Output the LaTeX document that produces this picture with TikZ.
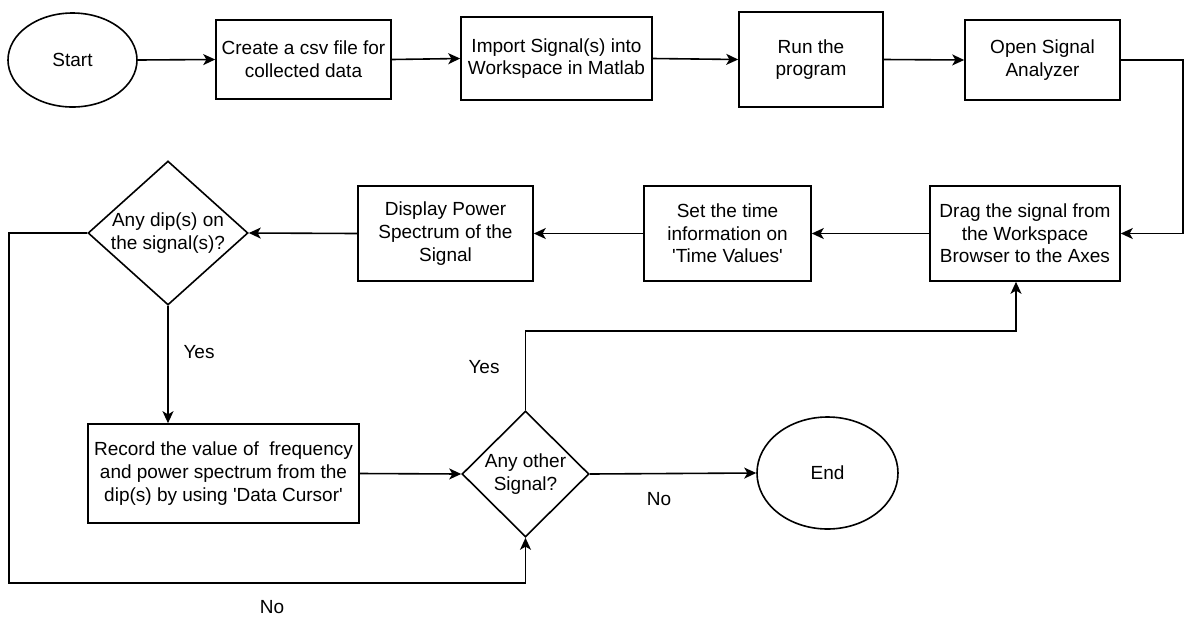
\documentclass[tikz,border=0pt]{standalone}
\usepackage{fontspec}
\setmainfont{Liberation Sans}
\usetikzlibrary{shapes.geometric,arrows.meta}

\begin{document}
\begin{tikzpicture}[>={Stealth[length=6pt,width=5.5pt,inset=1.6pt]}, x=0.5pt, y=-0.5pt,
    every node/.style={font=\fontsize{9.5pt}{11.3pt}\selectfont},
    box/.style={draw, line width=.8pt, align=center, inner sep=0pt},
    term/.style={draw, ellipse, line width=.8pt, inner sep=0pt},
    ask/.style={draw, diamond, line width=.8pt, align=center, inner sep=0pt},
    flow/.style={->, line width=.8pt}]
  \useasboundingbox (0,0) rectangle (1185,617);

  % first row
  \node[term, minimum width=64.5pt, minimum height=47pt] (start) at (72.5,60) {Start};
  \node[box, minimum width=87.5pt, minimum height=39.5pt] (csv) at (303.5,59.5) {Create a csv file for\\collected data};
  \node[box, minimum width=95.5pt, minimum height=41.5pt] (import) at (556.5,58.5) {Import Signal(s) into\\Workspace in Matlab};
  \node[box, minimum width=72pt, minimum height=47.5pt] (run) at (811,59.5) {Run the\\program};
  \node[box, minimum width=77.5pt, minimum height=40pt] (open) at (1042.5,60) {Open Signal\\Analyzer};

  % second row
  \node[box, minimum width=95pt, minimum height=47.5pt] (drag) at (1025,233.5) {Drag the signal from\\the Workspace\\Browser to the Axes};
  \node[box, minimum width=83.5pt, minimum height=47.5pt] (time) at (727.5,233.5) {Set the time\\information on\\\textquotesingle Time Values\textquotesingle};
  \node[box, minimum width=87.5pt, minimum height=47.5pt] (power) at (445.5,233.5) {Display Power\\Spectrum of the\\Signal};
  \node[ask, minimum width=80pt, minimum height=72pt, shape aspect=1.11] (dip) at (168,233) {Any dip(s) on\\the signal(s)?};

  % third row
  \node[box, minimum width=135.5pt, minimum height=49.5pt] (record) at (223.5,473.5) {Record the value of\ \ frequency\\and power spectrum from the\\dip(s) by using \textquotesingle Data Cursor\textquotesingle};
  \node[ask, minimum width=63.5pt, minimum height=63pt] (other) at (525.5,474) {Any other\\Signal?};
  \node[term, minimum width=70.5pt, minimum height=56pt] (end) at (827.5,473) {End};

  \node (yesdip) at (199,352) {Yes};
  \node (yesother) at (484,367) {Yes};
  \node (noother) at (659,499) {No};
  \node (nodip) at (272,607) {No};

  \coordinate (rt) at (1183,60);
  \coordinate (lb) at (9,583);
  \coordinate (up) at (1016,331);

  \draw[flow] (start.east) -- (csv.west);
  \draw[flow] (csv.east) -- (import.west);
  \draw[flow] (import.east) -- (run.west);
  \draw[flow] (run.east) -- (open.west);
  \draw[flow] (open.east) -- (open.east -| rt) |- (drag.east);
  \draw[flow] (drag.west) -- (time.east);
  \draw[flow] (time.west) -- (power.east);
  \draw[flow] (power.west) -- (dip.east);
  \draw[flow] (dip.south) -- (dip.south |- record.north);
  \draw[flow] (dip.west) -| (lb) -| (other.south);
  \draw[flow] (record.east) -- (other.west);
  \draw[flow] (other.east) -- (end.west);
  \draw[flow] (other.north) |- (up) -- (up |- drag.south);
\end{tikzpicture}
\end{document}
